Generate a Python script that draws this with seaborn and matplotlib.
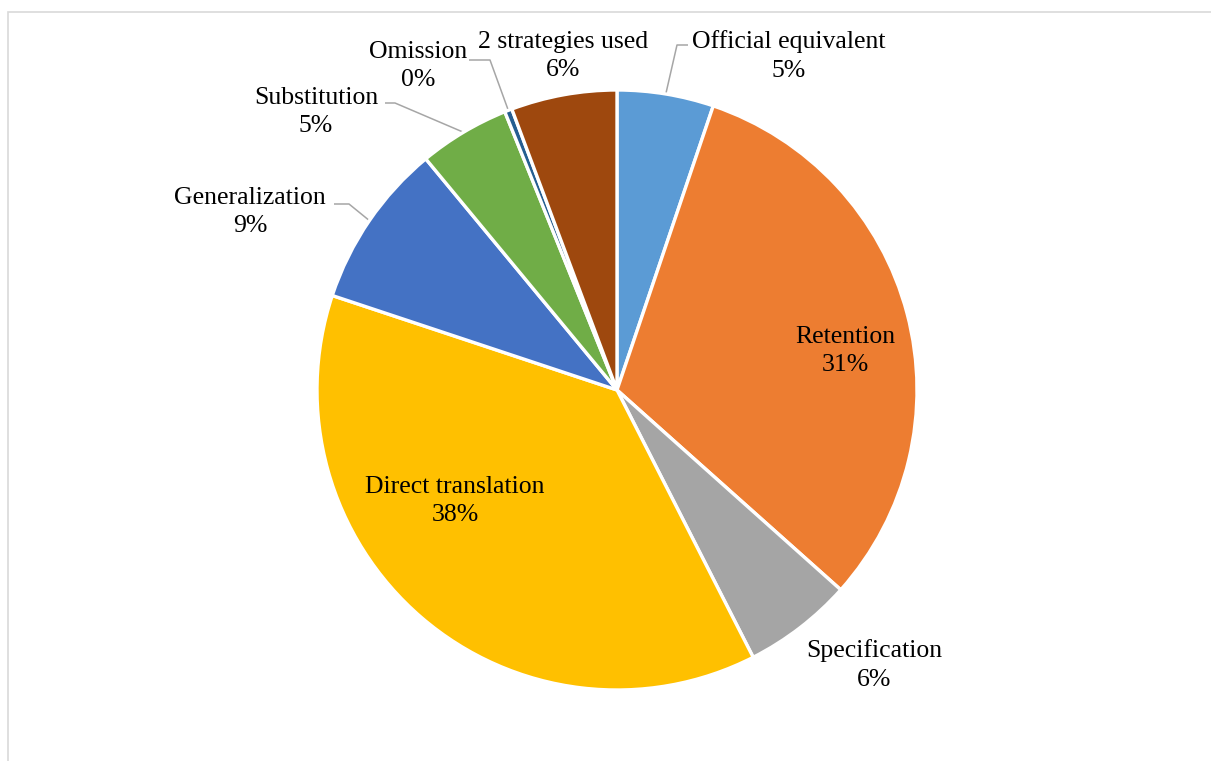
import numpy as np
import matplotlib
matplotlib.use("Agg")
import matplotlib.pyplot as plt
import matplotlib.patches as mpatches
import seaborn as sns

# Share of each translation strategy (percent), clockwise from 12 o'clock
categories = ["Official equivalent", "Retention", "Specification", "Direct translation",
              "Generalization", "Substitution", "Omission", "2 strategies used"]
shares = [5.2, 31.4, 5.9, 37.6, 8.9, 4.9, 0.4, 5.7]
colors = ["#5B9BD5", "#ED7D31", "#A5A5A5", "#FFC000",
          "#4472C4", "#70AD47", "#255E91", "#9E480E"]

sns.set_theme(style="white")
plt.rcParams["font.family"] = ["Liberation Serif", "DejaVu Serif"]

W, H = 1211, 761
CX, CY, R = 617, 390, 300  # pie centre and radius in pixels

fig = plt.figure(figsize=(W / 100, H / 100), dpi=100)
ax = fig.add_axes([0, 0, 1, 1])

wedges, _ = ax.pie(shares, colors=colors, startangle=90, counterclock=False,
                   radius=1, center=(0, 0),
                   wedgeprops=dict(edgecolor="white", linewidth=2.4))
ax.set_aspect("auto")
ax.set_xlim((0 - CX) / R, (W - CX) / R)
ax.set_ylim((CY - H) / R, (CY - 0) / R)
ax.axis("off")


def px(x, y):
    """Pixel position -> data coordinates."""
    return (x - CX) / R, (CY - y) / R


def rim_point(w):
    theta = np.deg2rad((w.theta1 + w.theta2) / 2)
    return np.cos(theta), np.sin(theta)


fs = 18.5
pct = [f"{round(v):d}%" for v in shares]

# label centre (pixels) and optional leader elbow / end (pixels)
label_layout = {
    "Official equivalent": ((789, 56), ((677, 45), (688, 45))),
    "Retention": ((845, 351), None),
    "Specification": ((874, 665), None),
    "Direct translation": ((455, 501), None),
    "Generalization": ((250, 212), ((349, 204), (334, 204))),
    "Substitution": ((316, 112), ((395, 103), (385, 103))),
    "Omission": ((418, 66), ((490, 60), (469, 60))),
    "2 strategies used": ((563, 56), None),
}

for w, name, p in zip(wedges, categories, pct):
    (lx, ly), leader = label_layout[name]
    tx, ty = px(lx, ly)
    ax.text(tx, ty, f"{name}\n{p}", ha="center", va="center",
            multialignment="center", fontsize=fs, color="#000000",
            linespacing=1.38)
    if leader is not None:
        sx, sy = rim_point(w)
        (ex, ey), (fx, fy) = leader
        e = px(ex, ey)
        f = px(fx, fy)
        ax.plot([sx, e[0], f[0]], [sy, e[1], f[1]], color="#A6A6A6",
                lw=1.1, solid_capstyle="butt", zorder=0.5)

# chart-area frame
frame = mpatches.Rectangle((8 / W, 0 - 0.01), 1.02, 1 - 12 / H + 0.01,
                           transform=fig.transFigure, fill=False,
                           edgecolor="#D9D9D9", lw=1.2)
fig.patches.append(frame)

fig.savefig("out.png", dpi=100, facecolor="white")
